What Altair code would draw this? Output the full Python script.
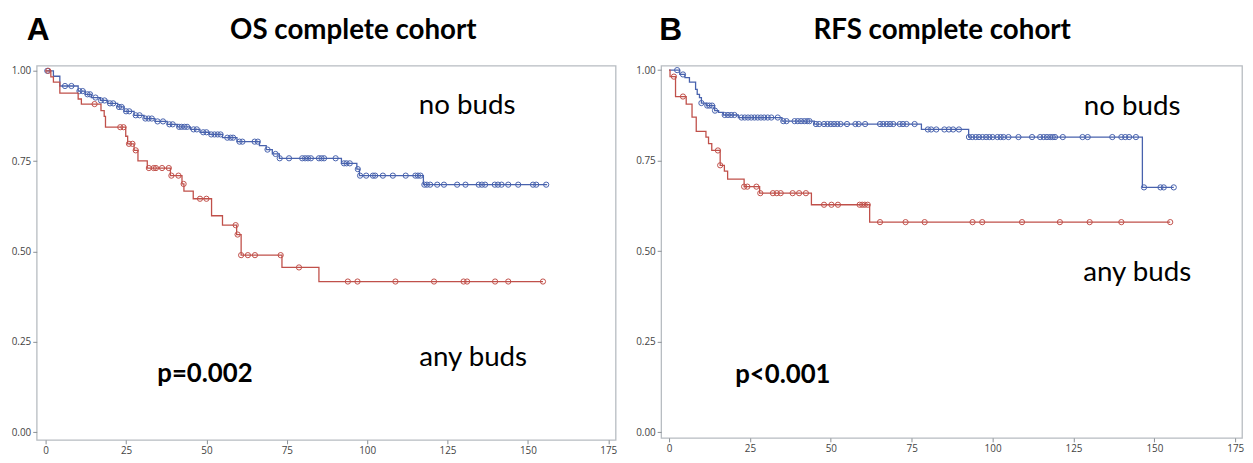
import altair as alt
import pandas as pd

# ---------------- data ----------------
X_TICKS = [0, 25, 50, 75, 100, 125, 150, 175]
Y_TICKS = [0.0, 0.25, 0.5, 0.75, 1.0]

PANEL_LETTERS = ["A", "B"]
PANEL_TITLES = ["OS complete cohort", "RFS complete cohort"]
GROUP_LABELS = ["no buds", "any buds"]
P_VALUES = ["p=0.002", "p<0.001"]

# Panel A (OS) - no buds: step times / survival
os_none_t = [0, 2.4, 4.4, 10.1, 12.3, 14.2, 17, 19.3, 22.4, 24.4, 27.5, 30.6, 34, 37.8, 41, 45, 48, 51,
             55, 59.5, 66.5, 68.6, 70.5, 72.7, 92, 96.8, 97.6, 117.5, 156]
os_none_s = [1.0, 0.985, 0.958, 0.944, 0.935, 0.926, 0.918, 0.91, 0.9, 0.888, 0.877, 0.868, 0.86, 0.852,
             0.845, 0.838, 0.83, 0.824, 0.815, 0.804, 0.793, 0.782, 0.77, 0.758, 0.744, 0.728, 0.71, 0.685, 0.685]
os_none_cens = [0.5, 6, 8, 10.5, 11.5, 13, 13.8, 15.5, 17.2, 18.3, 20, 21, 22.8, 23.6, 25, 26, 28, 29.2, 31, 32,
                33, 34.8, 36.5, 38.5, 39.5, 41.5, 42.3, 43.2, 44, 46, 47, 49, 50, 51.5, 52.5, 53.5, 54.4, 56.5,
                57.5, 58.3, 60.3, 61.2, 65, 66, 69, 71.5, 72.8, 75.7, 79.8, 80.7, 81.6, 82.5, 85, 85.8, 86.6,
                90.2, 92.8, 93.6, 94.6, 97.1, 97.8, 99.7, 101.8, 102.5, 104.9, 108, 112, 115, 115.8, 116.6,
                117.8, 118.6, 119.6, 121.8, 123.9, 128, 130.6, 134.7, 135.7, 136.7, 139.7, 140.7, 141.8, 143.9,
                147, 151.6, 152.6, 155.7]

# Panel A (OS) - any buds
os_any_t = [0, 1.6, 2.4, 4.4, 10.1, 11.1, 17.2, 18.2, 18.6, 24.9, 25.5, 27.5, 28.7, 31.6, 38.8, 42.4, 43,
            45.9, 51.6, 55, 59.4, 60.8, 73.5, 85, 154.7]
os_any_s = [1.0, 0.983, 0.969, 0.938, 0.922, 0.908, 0.89, 0.874, 0.844, 0.819, 0.798, 0.78, 0.751, 0.731,
            0.71, 0.687, 0.667, 0.646, 0.599, 0.573, 0.547, 0.49, 0.456, 0.417, 0.417]
os_any_cens = [0.8, 15.2, 23.2, 24.2, 25.9, 27, 28, 32.1, 33.6, 34.3, 36.2, 38.3, 39.1, 41.3, 42.9, 48, 50,
               59.1, 59.7, 60.8, 62.9, 65.1, 73.1, 78.8, 94, 97, 108.8, 120.8, 130, 131.1, 139.8, 143.9, 154.7]

# Panel B (RFS) - no buds
rfs_none_t = [0, 3.3, 4.9, 6.3, 8.2, 8.7, 9.4, 10, 11.5, 14.1, 15.3, 16.8, 21.4, 34.9, 44.9, 78, 92.6,
              146.3, 156]
rfs_none_s = [1.0, 0.988, 0.979, 0.967, 0.947, 0.933, 0.924, 0.909, 0.902, 0.888, 0.883, 0.876, 0.869,
              0.859, 0.851, 0.836, 0.815, 0.676, 0.676]
rfs_none_cens = [2.5, 4.3, 10, 11.8, 12.5, 13.3, 14.2, 17.2, 18.2, 19.2, 20.2, 22.4, 23.4, 24.4, 25.4, 26.4,
                 27.4, 28.4, 29.4, 30.5, 31.6, 33.6, 35.3, 36.3, 38.8, 39.8, 40.8, 41.8, 42.7, 43.4, 45.4,
                 46.4, 47.9, 49, 50, 51, 52, 53, 55, 57.6, 58.6, 60.6, 65.2, 66.2, 67.3, 68.3, 69.3, 71.3,
                 72.3, 73.4, 75.9, 80, 81, 82.6, 85.1, 86.5, 87.8, 89.6, 92.7, 93.7, 94.8, 95.8, 96.9, 98, 99,
                 100, 101.5, 102.5, 103.4, 104.9, 108, 112.2, 114.7, 115.8, 116.8, 117.8, 118.6, 119.3, 121.7,
                 127.8, 129.4, 137, 139.8, 141, 142.2, 144.3, 146.8, 151.9, 152.9, 156]

# Panel B (RFS) - any buds
rfs_any_t = [0, 0.3, 2.0, 5.3, 7.1, 8.4, 11.4, 12.2, 13.2, 15.8, 17.1, 18.1, 23.2, 28, 44, 62, 154.9]
rfs_any_s = [1.0, 0.982, 0.927, 0.906, 0.870, 0.831, 0.815, 0.797, 0.778, 0.737, 0.721, 0.699, 0.678,
             0.660, 0.628, 0.580, 0.580]
rfs_any_cens = [1.5, 4.3, 15.1, 15.8, 23.2, 24.2, 27, 28.2, 32.1, 33.3, 34.5, 38.2, 40.2, 42.3, 47.9, 50.2,
                52.2, 58.9, 59.7, 60.5, 61.4, 65.2, 73.1, 79, 93.8, 96.8, 109.1, 120.8, 130, 139.8, 154.9]

# ---------------- styling ----------------
BLUE = "#4862ad"
RED = "#c0504a"
FONT = "Lato"
LETTER_FONT = "Liberation Sans"
LABEL_FONT = "Open Sans"


def step_frame(ts, ss):
    return pd.DataFrame({"t": ts, "s": ss})


def censor_frame(ct, ts, ss):
    # censor marks sit on the drawn step curve
    vals = []
    for c in ct:
        v = ss[0]
        for tt, sv in zip(ts, ss):
            if tt <= c:
                v = sv
        vals.append(v)
    return pd.DataFrame({"t": ct, "s": vals})


def panel(xdom, ydom, w, h, curves, texts, right_pad):
    xs = alt.Scale(domain=xdom, nice=False, zero=False)
    ys = alt.Scale(domain=ydom, nice=False, zero=False)
    xax = alt.Axis(values=X_TICKS, title=None, grid=False, domain=False, tickSize=4,
                   tickColor="#8a8f94", labelFontSize=10, labelColor="#444444", labelFont=LABEL_FONT,
                   labelPadding=2, labelFlush=False)
    yax = alt.Axis(values=Y_TICKS, format=".2f", title=None, grid=False, domain=False, tickSize=4,
                   tickColor="#8a8f94", labelFontSize=10, labelColor="#444444", labelFont=LABEL_FONT,
                   labelPadding=2)
    X = alt.X("t:Q", scale=xs, axis=xax)
    Y = alt.Y("s:Q", scale=ys, axis=yax)
    one = pd.DataFrame({"d": [0]})
    layers = [
        alt.Chart(one).mark_rule(color="white", strokeWidth=1).encode(
            x=alt.value(-27), x2=alt.value(w + right_pad), y=alt.value(-54))
    ]
    for ts, ss, ct, color in curves:
        layers.append(alt.Chart(step_frame(ts, ss)).mark_line(
            interpolate="step-after", color=color, strokeWidth=1.3).encode(x=X, y=Y))
        layers.append(alt.Chart(censor_frame(ct, ts, ss)).mark_point(
            shape="circle", filled=False, size=28, color=color, strokeWidth=1, opacity=1).encode(x=X, y=Y))
    for txt, x, y, size, weight, align, font in texts:
        layers.append(alt.Chart(one).mark_text(
            text=txt, fontSize=size, fontWeight=weight, font=font, align=align,
            baseline="alphabetic", color="black").encode(x=alt.value(x), y=alt.value(y)))
    return alt.layer(*layers).properties(width=w, height=h)


pA = panel(
    [-2.8, 177.3], [-0.021, 1.014], 585, 378,
    [(os_none_t, os_none_s, os_none_cens, BLUE), (os_any_t, os_any_s, os_any_cens, RED)],
    [
        (PANEL_LETTERS[0], -10, -26, 32, "bold", "left", LETTER_FONT),
        (PANEL_TITLES[0], 320, -27, 28, "bold", "center", FONT),
        (GROUP_LABELS[0], 435, 49, 28, "normal", "center", FONT),
        (GROUP_LABELS[1], 441, 303, 28, "normal", "center", FONT),
        (P_VALUES[0], 170, 320, 26, "bold", "center", FONT),
    ],
    2,
)

pB = panel(
    [-2.45, 177.1], [-0.016, 1.012], 587, 376,
    [(rfs_none_t, rfs_none_s, rfs_none_cens, BLUE), (rfs_any_t, rfs_any_s, rfs_any_cens, RED)],
    [
        (PANEL_LETTERS[1], -2, -26, 32, "bold", "left", LETTER_FONT),
        (PANEL_TITLES[1], 284, -27, 28, "bold", "center", FONT),
        (GROUP_LABELS[0], 476, 50, 28, "normal", "center", FONT),
        (GROUP_LABELS[1], 481, 217, 28, "normal", "center", FONT),
        (P_VALUES[1], 123, 321, 26, "bold", "center", FONT),
    ],
    0,
)

chart = alt.hconcat(pA, pB, spacing=13).properties(
    padding={"left": 0, "top": 0, "right": 0, "bottom": 0}
).configure_view(stroke="#b7bcc1", strokeWidth=1.3)

chart.save("out.html", embed_options={"renderer": "svg", "actions": False})
